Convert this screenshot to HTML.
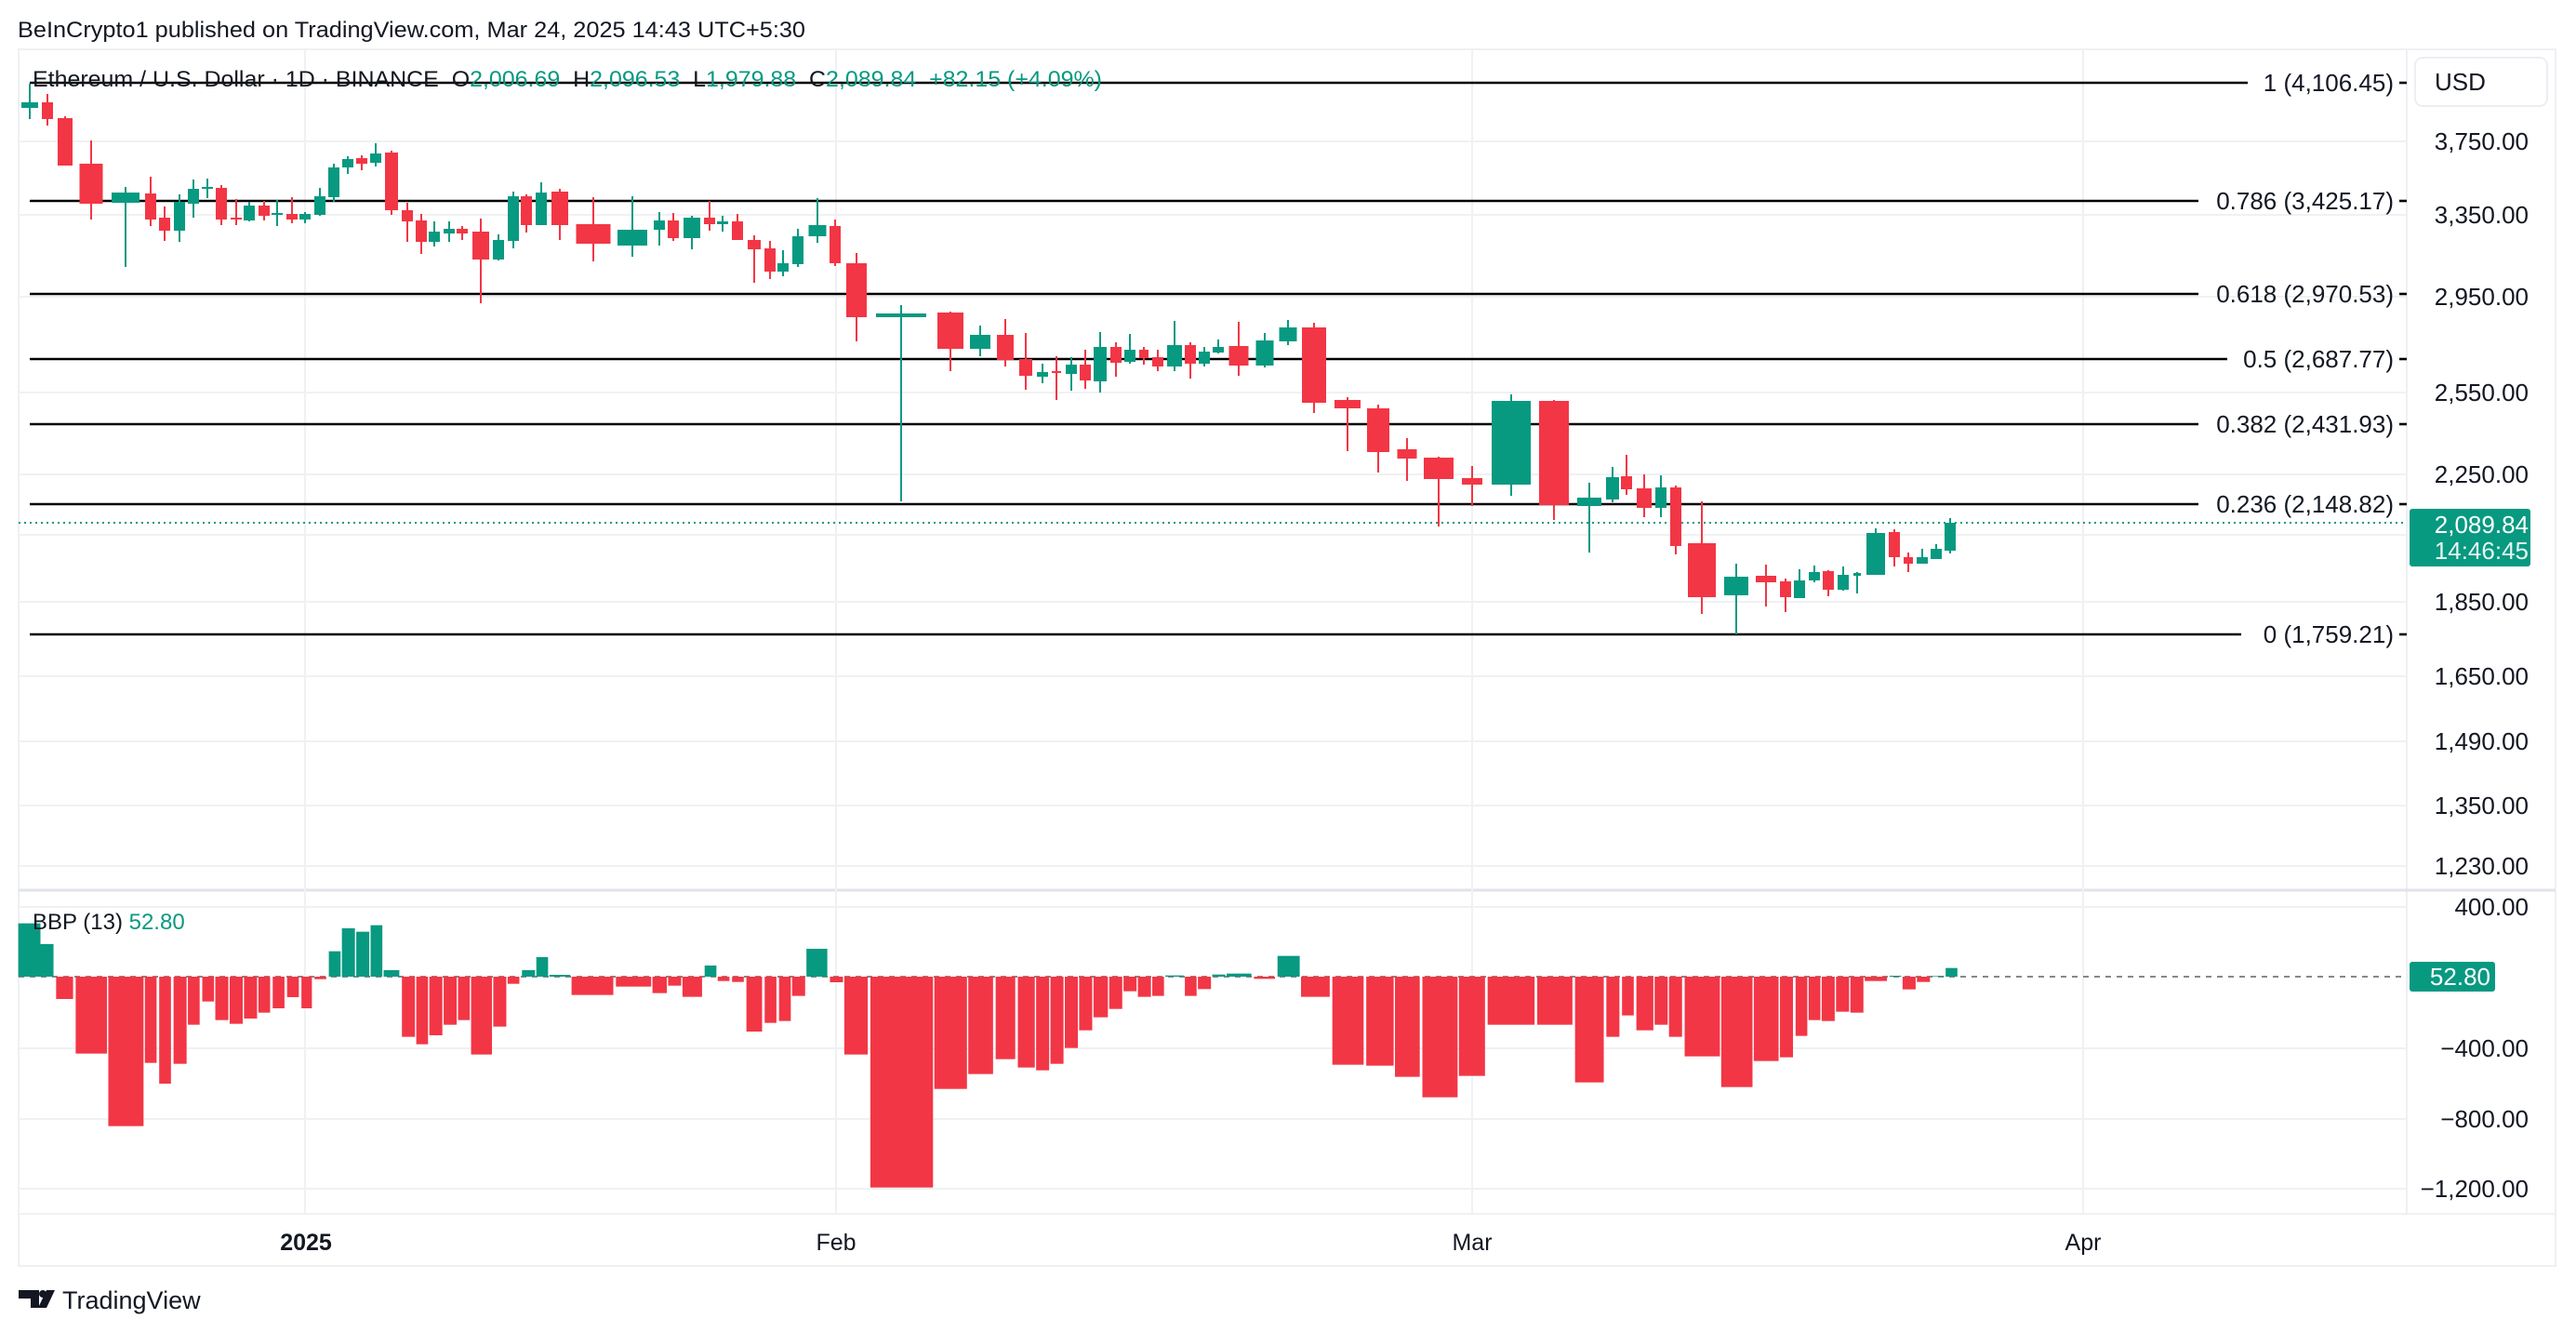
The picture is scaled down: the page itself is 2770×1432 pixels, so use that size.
<!DOCTYPE html>
<html><head><meta charset="utf-8"><style>
html,body{margin:0;padding:0;background:#fff}
svg{display:block}
text{font-family:"Liberation Sans",sans-serif}
.g{fill:#089981}.r{fill:#F23645}
.gw{stroke:#089981;stroke-width:2}.rw{stroke:#F23645;stroke-width:2}
.ax{font-size:26px;fill:#131722;text-anchor:end}
.fb{font-size:26px;fill:#131722;text-anchor:end}
.grid{stroke:#f0f1f3;stroke-width:2}
.fib{stroke:#000;stroke-width:2.6}
</style></head><body>
<svg width="2770" height="1432" viewBox="0 0 2770 1432" xmlns="http://www.w3.org/2000/svg">
<rect width="2770" height="1432" fill="#fff"/>
<text x="19" y="40" font-size="24" fill="#131722" textLength="847" lengthAdjust="spacingAndGlyphs">BeInCrypto1 published on TradingView.com, Mar 24, 2025 14:43 UTC+5:30</text>
<rect x="20" y="53" width="2728" height="1308" fill="none" stroke="#eef0f3" stroke-width="2"/>
<line x1="2588" y1="53" x2="2588" y2="1305" stroke="#eef0f3" stroke-width="2"/>
<line x1="20" y1="957" x2="2748" y2="957" stroke="#e0e3eb" stroke-width="3"/>
<line x1="20" y1="1305" x2="2748" y2="1305" stroke="#eef0f3" stroke-width="2"/>
<g class="grid">
<line x1="20" y1="152" x2="2588" y2="152"/><line x1="20" y1="231" x2="2588" y2="231"/>
<line x1="20" y1="319" x2="2588" y2="319"/><line x1="20" y1="422" x2="2588" y2="422"/>
<line x1="20" y1="510" x2="2588" y2="510"/><line x1="20" y1="575" x2="2588" y2="575"/>
<line x1="20" y1="647" x2="2588" y2="647"/><line x1="20" y1="727" x2="2588" y2="727"/>
<line x1="20" y1="797" x2="2588" y2="797"/><line x1="20" y1="866" x2="2588" y2="866"/>
<line x1="20" y1="931" x2="2588" y2="931"/>
<line x1="20" y1="975" x2="2588" y2="975"/><line x1="20" y1="1127" x2="2588" y2="1127"/>
<line x1="20" y1="1203" x2="2588" y2="1203"/><line x1="20" y1="1278" x2="2588" y2="1278"/>
<line x1="328" y1="53" x2="328" y2="1305"/><line x1="899" y1="53" x2="899" y2="1305"/>
<line x1="1583" y1="53" x2="1583" y2="1305"/><line x1="2240" y1="53" x2="2240" y2="1305"/>
</g>
<g class="fib">
<line x1="32" y1="89" x2="2417" y2="89"/>
<line x1="32" y1="216" x2="2364" y2="216"/>
<line x1="32" y1="316" x2="2364" y2="316"/>
<line x1="32" y1="386" x2="2395" y2="386"/>
<line x1="32" y1="456" x2="2364" y2="456"/>
<line x1="32" y1="542" x2="2364" y2="542"/>
<line x1="32" y1="682" x2="2410" y2="682"/>
<line x1="2580" y1="89" x2="2588" y2="89"/><line x1="2580" y1="216" x2="2588" y2="216"/>
<line x1="2580" y1="316" x2="2588" y2="316"/><line x1="2580" y1="386" x2="2588" y2="386"/>
<line x1="2580" y1="456" x2="2588" y2="456"/><line x1="2580" y1="542" x2="2588" y2="542"/>
<line x1="2580" y1="682" x2="2588" y2="682"/>
</g>
<g class="fb">
<text x="2574" y="98">1 (4,106.45)</text>
<text x="2574" y="225">0.786 (3,425.17)</text>
<text x="2574" y="325">0.618 (2,970.53)</text>
<text x="2574" y="395">0.5 (2,687.77)</text>
<text x="2574" y="465">0.382 (2,431.93)</text>
<text x="2574" y="551">0.236 (2,148.82)</text>
<text x="2574" y="691">0 (1,759.21)</text>
</g>
<line x1="20" y1="562" x2="2588" y2="562" stroke="#089981" stroke-width="2" stroke-dasharray="2,4"/>
<g id="c">
<line class="gw" x1="32" y1="90" x2="32" y2="128"/><rect class="g" x="23" y="110" width="18" height="6"/>
<line class="rw" x1="51" y1="101" x2="51" y2="135"/><rect class="r" x="45" y="110" width="12" height="18"/>
<line class="rw" x1="70" y1="125" x2="70" y2="178"/><rect class="r" x="62" y="127" width="16" height="51"/>
<line class="rw" x1="98" y1="151" x2="98" y2="236"/><rect class="r" x="85.5" y="176" width="25" height="43"/>
<line class="gw" x1="135" y1="201" x2="135" y2="287"/><rect class="g" x="120" y="207" width="30" height="11"/>
<line class="rw" x1="162" y1="190" x2="162" y2="243"/><rect class="r" x="156" y="208" width="12" height="28"/>
<line class="rw" x1="177" y1="222" x2="177" y2="259"/><rect class="r" x="171" y="234" width="12" height="14"/>
<line class="gw" x1="193" y1="209" x2="193" y2="260"/><rect class="g" x="187" y="217" width="12" height="31"/>
<line class="gw" x1="208" y1="193" x2="208" y2="234"/><rect class="g" x="202" y="203" width="12" height="16"/>
<line class="gw" x1="223" y1="192" x2="223" y2="213"/><rect class="g" x="217" y="201" width="12" height="2"/>
<line class="rw" x1="238" y1="199" x2="238" y2="242"/><rect class="r" x="232" y="202" width="12" height="34"/>
<line class="rw" x1="254" y1="214" x2="254" y2="242"/><rect class="r" x="248" y="234" width="12" height="2"/>
<line class="gw" x1="268" y1="217" x2="268" y2="238"/><rect class="g" x="262" y="221" width="12" height="16"/>
<line class="rw" x1="284" y1="216" x2="284" y2="237"/><rect class="r" x="278" y="221" width="12" height="11"/>
<line class="gw" x1="298" y1="215" x2="298" y2="243"/><rect class="g" x="292" y="229" width="12" height="2"/>
<line class="rw" x1="314" y1="212" x2="314" y2="240"/><rect class="r" x="308" y="230" width="12" height="6"/>
<line class="gw" x1="328" y1="228" x2="328" y2="240"/><rect class="g" x="322" y="230" width="12" height="6"/>
<line class="gw" x1="344" y1="202" x2="344" y2="232"/><rect class="g" x="338" y="211" width="12" height="20"/>
<line class="gw" x1="359" y1="176" x2="359" y2="217"/><rect class="g" x="353" y="180" width="12" height="32"/>
<line class="gw" x1="374" y1="168" x2="374" y2="187"/><rect class="g" x="368" y="171" width="12" height="9"/>
<line class="rw" x1="389" y1="167" x2="389" y2="183"/><rect class="r" x="383" y="170" width="12" height="6"/>
<line class="gw" x1="404" y1="154" x2="404" y2="179"/><rect class="g" x="398" y="165" width="12" height="10"/>
<line class="rw" x1="421" y1="162" x2="421" y2="231"/><rect class="r" x="414" y="164" width="14" height="62"/>
<line class="rw" x1="438" y1="218" x2="438" y2="260"/><rect class="r" x="432" y="226" width="12" height="12"/>
<line class="rw" x1="453" y1="230" x2="453" y2="273"/><rect class="r" x="447" y="237" width="12" height="23"/>
<line class="gw" x1="467" y1="238" x2="467" y2="265"/><rect class="g" x="461" y="249" width="12" height="11"/>
<line class="gw" x1="483" y1="238" x2="483" y2="260"/><rect class="g" x="477" y="246" width="12" height="5"/>
<line class="rw" x1="497" y1="243" x2="497" y2="258"/><rect class="r" x="491" y="246" width="12" height="5"/>
<line class="rw" x1="517" y1="235" x2="517" y2="326"/><rect class="r" x="508" y="249" width="18" height="30"/>
<line class="gw" x1="536" y1="252" x2="536" y2="280"/><rect class="g" x="530" y="258" width="12" height="21"/>
<line class="gw" x1="552" y1="206" x2="552" y2="267"/><rect class="g" x="546" y="211" width="12" height="48"/>
<line class="rw" x1="566" y1="209" x2="566" y2="250"/><rect class="r" x="560" y="211" width="12" height="31"/>
<line class="gw" x1="582" y1="196" x2="582" y2="242"/><rect class="g" x="576" y="207" width="12" height="35"/>
<line class="rw" x1="602" y1="203" x2="602" y2="258"/><rect class="r" x="593" y="206" width="18" height="36"/>
<line class="rw" x1="638" y1="212" x2="638" y2="281"/><rect class="r" x="619.5" y="241" width="37" height="21"/>
<line class="gw" x1="680" y1="211" x2="680" y2="276"/><rect class="g" x="664" y="247" width="32" height="17"/>
<line class="gw" x1="709" y1="228" x2="709" y2="264"/><rect class="g" x="703" y="237" width="12" height="10"/>
<line class="rw" x1="724" y1="229" x2="724" y2="259"/><rect class="r" x="718" y="237" width="12" height="19"/>
<line class="gw" x1="744" y1="232" x2="744" y2="268"/><rect class="g" x="735" y="234" width="18" height="22"/>
<line class="rw" x1="763" y1="216" x2="763" y2="248"/><rect class="r" x="757" y="234" width="12" height="7"/>
<line class="gw" x1="777" y1="232" x2="777" y2="249"/><rect class="g" x="771" y="238" width="12" height="3"/>
<line class="rw" x1="793" y1="230" x2="793" y2="258"/><rect class="r" x="787" y="238" width="12" height="20"/>
<line class="rw" x1="811" y1="253" x2="811" y2="304"/><rect class="r" x="804" y="258" width="14" height="10"/>
<line class="rw" x1="828" y1="259" x2="828" y2="300"/><rect class="r" x="822" y="267" width="12" height="25"/>
<line class="gw" x1="842" y1="269" x2="842" y2="297"/><rect class="g" x="836" y="283" width="12" height="9"/>
<line class="gw" x1="858" y1="246" x2="858" y2="287"/><rect class="g" x="852" y="254" width="12" height="30"/>
<line class="gw" x1="879" y1="213" x2="879" y2="261"/><rect class="g" x="869.5" y="242" width="19" height="12"/>
<line class="rw" x1="898" y1="236" x2="898" y2="286"/><rect class="r" x="892" y="243" width="12" height="40"/>
<line class="rw" x1="921" y1="272" x2="921" y2="367"/><rect class="r" x="910" y="283" width="22" height="58"/>
<line class="gw" x1="969" y1="328" x2="969" y2="539"/><rect class="g" x="942" y="337" width="54" height="4"/>
<line class="rw" x1="1022" y1="335" x2="1022" y2="399"/><rect class="r" x="1008" y="336" width="28" height="39"/>
<line class="gw" x1="1054" y1="350" x2="1054" y2="383"/><rect class="g" x="1043" y="360" width="22" height="15"/>
<line class="rw" x1="1081" y1="343" x2="1081" y2="394"/><rect class="r" x="1072" y="360" width="18" height="27"/>
<line class="rw" x1="1103" y1="358" x2="1103" y2="419"/><rect class="r" x="1096" y="386" width="14" height="18"/>
<line class="gw" x1="1121" y1="391" x2="1121" y2="412"/><rect class="g" x="1115" y="400" width="12" height="5"/>
<line class="rw" x1="1136" y1="383" x2="1136" y2="430"/><rect class="r" x="1131" y="399" width="10" height="2"/>
<line class="gw" x1="1152" y1="384" x2="1152" y2="420"/><rect class="g" x="1146" y="392" width="12" height="10"/>
<line class="rw" x1="1167" y1="376" x2="1167" y2="418"/><rect class="r" x="1161" y="392" width="12" height="17"/>
<line class="gw" x1="1183" y1="357" x2="1183" y2="422"/><rect class="g" x="1176" y="373" width="14" height="37"/>
<line class="rw" x1="1200" y1="368" x2="1200" y2="405"/><rect class="r" x="1194" y="373" width="12" height="17"/>
<line class="gw" x1="1215" y1="359" x2="1215" y2="391"/><rect class="g" x="1209" y="376" width="12" height="13"/>
<line class="rw" x1="1230" y1="373" x2="1230" y2="392"/><rect class="r" x="1225" y="376" width="10" height="9"/>
<line class="rw" x1="1245" y1="376" x2="1245" y2="399"/><rect class="r" x="1239" y="384" width="12" height="10"/>
<line class="gw" x1="1263" y1="345" x2="1263" y2="399"/><rect class="g" x="1255" y="371" width="16" height="23"/>
<line class="rw" x1="1280" y1="368" x2="1280" y2="407"/><rect class="r" x="1274" y="371" width="12" height="20"/>
<line class="gw" x1="1295" y1="373" x2="1295" y2="394"/><rect class="g" x="1289" y="378" width="12" height="13"/>
<line class="gw" x1="1310" y1="365" x2="1310" y2="380"/><rect class="g" x="1304" y="373" width="12" height="6"/>
<line class="rw" x1="1332" y1="346" x2="1332" y2="404"/><rect class="r" x="1321.5" y="372" width="21" height="21"/>
<line class="gw" x1="1360" y1="358" x2="1360" y2="395"/><rect class="g" x="1350.5" y="366" width="19" height="27"/>
<line class="gw" x1="1385" y1="344" x2="1385" y2="371"/><rect class="g" x="1375.5" y="352" width="19" height="15"/>
<line class="rw" x1="1413" y1="347" x2="1413" y2="444"/><rect class="r" x="1400" y="352" width="26" height="81"/>
<line class="rw" x1="1449" y1="427" x2="1449" y2="485"/><rect class="r" x="1435" y="430" width="28" height="9"/>
<line class="rw" x1="1482" y1="435" x2="1482" y2="508"/><rect class="r" x="1470" y="439" width="24" height="47"/>
<line class="rw" x1="1513" y1="471" x2="1513" y2="517"/><rect class="r" x="1502.5" y="483" width="21" height="10"/>
<line class="rw" x1="1547" y1="491" x2="1547" y2="566"/><rect class="r" x="1531" y="492" width="32" height="23"/>
<line class="rw" x1="1583" y1="501" x2="1583" y2="544"/><rect class="r" x="1572" y="514" width="22" height="7"/>
<line class="gw" x1="1625" y1="424" x2="1625" y2="533"/><rect class="g" x="1604" y="431" width="42" height="90"/>
<line class="rw" x1="1671" y1="430" x2="1671" y2="559"/><rect class="r" x="1655" y="431" width="32" height="112"/>
<line class="gw" x1="1709" y1="519" x2="1709" y2="594"/><rect class="g" x="1696" y="535" width="26" height="9"/>
<line class="gw" x1="1734" y1="502" x2="1734" y2="540"/><rect class="g" x="1727" y="513" width="14" height="24"/>
<line class="rw" x1="1749" y1="489" x2="1749" y2="532"/><rect class="r" x="1743" y="512" width="12" height="14"/>
<line class="rw" x1="1768" y1="510" x2="1768" y2="556"/><rect class="r" x="1760" y="525" width="16" height="21"/>
<line class="gw" x1="1786" y1="511" x2="1786" y2="556"/><rect class="g" x="1780" y="524" width="12" height="22"/>
<line class="rw" x1="1802" y1="522" x2="1802" y2="596"/><rect class="r" x="1796" y="524" width="12" height="63"/>
<line class="rw" x1="1830" y1="539" x2="1830" y2="660"/><rect class="r" x="1815" y="584" width="30" height="58"/>
<line class="gw" x1="1867" y1="606" x2="1867" y2="682"/><rect class="g" x="1854" y="620" width="26" height="20"/>
<line class="rw" x1="1899" y1="607" x2="1899" y2="652"/><rect class="r" x="1888" y="619" width="22" height="7"/>
<line class="rw" x1="1920" y1="622" x2="1920" y2="658"/><rect class="r" x="1914" y="625" width="12" height="17"/>
<line class="gw" x1="1935" y1="612" x2="1935" y2="643"/><rect class="g" x="1929" y="624" width="12" height="19"/>
<line class="gw" x1="1951" y1="608" x2="1951" y2="626"/><rect class="g" x="1945" y="615" width="12" height="9"/>
<line class="rw" x1="1966" y1="613" x2="1966" y2="641"/><rect class="r" x="1960" y="614" width="12" height="20"/>
<line class="gw" x1="1982" y1="609" x2="1982" y2="635"/><rect class="g" x="1976" y="618" width="12" height="16"/>
<line class="gw" x1="1997" y1="615" x2="1997" y2="638"/><rect class="g" x="1993" y="616" width="8" height="3"/>
<line class="gw" x1="2017" y1="568" x2="2017" y2="618"/><rect class="g" x="2007" y="573" width="20" height="45"/>
<line class="rw" x1="2037" y1="569" x2="2037" y2="609"/><rect class="r" x="2031" y="572" width="12" height="27"/>
<line class="rw" x1="2052" y1="594" x2="2052" y2="615"/><rect class="r" x="2047" y="599" width="10" height="7"/>
<line class="gw" x1="2067" y1="590" x2="2067" y2="606"/><rect class="g" x="2061" y="599" width="12" height="7"/>
<line class="gw" x1="2082" y1="585" x2="2082" y2="601"/><rect class="g" x="2076" y="590" width="12" height="11"/>
<line class="gw" x1="2097" y1="557" x2="2097" y2="595"/><rect class="g" x="2091" y="562" width="12" height="30"/>
</g>
<text x="35" y="93" font-size="24" fill="#131722" style="white-space:pre" textLength="1150" lengthAdjust="spacingAndGlyphs">Ethereum / U.S. Dollar · 1D · BINANCE  O<tspan fill="#089981">2,006.69</tspan>  H<tspan fill="#089981">2,096.53</tspan>  L<tspan fill="#089981">1,979.88</tspan>  C<tspan fill="#089981">2,089.84  +82.15 (+4.09%)</tspan></text>
<rect x="2597" y="62" width="142" height="52" rx="8" fill="#fff" stroke="#eceef2" stroke-width="2"/>
<text x="2618" y="97" font-size="26" fill="#131722">USD</text>
<g class="ax">
<text x="2719" y="161">3,750.00</text>
<text x="2719" y="240">3,350.00</text>
<text x="2719" y="328">2,950.00</text>
<text x="2719" y="431">2,550.00</text>
<text x="2719" y="519">2,250.00</text>
<text x="2719" y="656">1,850.00</text>
<text x="2719" y="736">1,650.00</text>
<text x="2719" y="806">1,490.00</text>
<text x="2719" y="875">1,350.00</text>
<text x="2719" y="940">1,230.00</text>
<text x="2719" y="984">400.00</text>
<text x="2719" y="1136">−400.00</text>
<text x="2719" y="1212">−800.00</text>
<text x="2719" y="1287">−1,200.00</text>
</g>
<rect x="2591" y="547" width="130" height="62" rx="3" fill="#089981"/>
<text x="2719" y="573" font-size="26" fill="#fff" text-anchor="end">2,089.84</text>
<text x="2719" y="601" font-size="26" fill="#e6f4f1" text-anchor="end">14:46:45</text>
<line x1="20" y1="1050" x2="2588" y2="1050" stroke="#888" stroke-width="2" stroke-dasharray="6,6"/>
<g transform="translate(0,950) scale(1.4032,0.33333)">
<rect class="g" x="14" y="128" width="17" height="172"/><rect class="g" x="31" y="195" width="10" height="105"/>
<rect class="r" x="43" y="300" width="13" height="72"/><rect class="r" x="58" y="300" width="24" height="248"/>
<rect class="r" x="83" y="300" width="27" height="482"/><rect class="r" x="111" y="300" width="9" height="278"/>
<rect class="r" x="122" y="300" width="9" height="345"/><rect class="r" x="133" y="300" width="10" height="281"/>
<rect class="r" x="144" y="300" width="9" height="155"/><rect class="r" x="155" y="300" width="9" height="80"/>
<rect class="r" x="165" y="300" width="10" height="140"/><rect class="r" x="176" y="300" width="10" height="152"/>
<rect class="r" x="187" y="300" width="10" height="135"/><rect class="r" x="198" y="300" width="9" height="116"/>
<rect class="r" x="209" y="300" width="9" height="102"/><rect class="r" x="220" y="300" width="9" height="66"/>
<rect class="r" x="231" y="300" width="8" height="102"/><rect class="r" x="241" y="300" width="9" height="8"/>
<rect class="g" x="252" y="218" width="9" height="82"/><rect class="g" x="262" y="144" width="10" height="156"/>
<rect class="g" x="273" y="155" width="10" height="145"/><rect class="g" x="284" y="134" width="9" height="166"/>
<rect class="g" x="294" y="279" width="12" height="21"/>
<rect class="r" x="308" y="300" width="10" height="194"/><rect class="r" x="319" y="300" width="9" height="218"/>
<rect class="r" x="329" y="300" width="10" height="189"/><rect class="r" x="340" y="300" width="10" height="155"/>
<rect class="r" x="351" y="300" width="9" height="140"/><rect class="r" x="361" y="300" width="16" height="251"/>
<rect class="r" x="378" y="300" width="10" height="161"/><rect class="r" x="389" y="300" width="9" height="23"/>
<rect class="g" x="400" y="279" width="10" height="21"/><rect class="g" x="411" y="237" width="9" height="63"/>
<rect class="g" x="421" y="294" width="16" height="6"/>
<rect class="r" x="438" y="300" width="32" height="59"/><rect class="r" x="472" y="300" width="27" height="32"/>
<rect class="r" x="500" y="300" width="11" height="53"/><rect class="r" x="512" y="300" width="10" height="29"/>
<rect class="r" x="523" y="300" width="15" height="65"/><rect class="g" x="540" y="264" width="9" height="36"/>
<rect class="r" x="550" y="300" width="9" height="14"/><rect class="r" x="561" y="300" width="9" height="17"/>
<rect class="r" x="572" y="300" width="12" height="177"/><rect class="r" x="586" y="300" width="9" height="149"/>
<rect class="r" x="597" y="300" width="9" height="143"/><rect class="r" x="607" y="300" width="10" height="62"/>
<rect class="g" x="618" y="210" width="16" height="90"/><rect class="r" x="636" y="300" width="10" height="18"/>
<rect class="r" x="647" y="300" width="18" height="251"/><rect class="r" x="667" y="300" width="48" height="680"/>
<rect class="r" x="716" y="300" width="25" height="362"/><rect class="r" x="742" y="300" width="19" height="314"/>
<rect class="r" x="763" y="300" width="15" height="266"/><rect class="r" x="780" y="300" width="13" height="293"/>
<rect class="r" x="794" y="300" width="10" height="302"/><rect class="r" x="805" y="300" width="10" height="281"/>
<rect class="r" x="816" y="300" width="10" height="230"/><rect class="r" x="827" y="300" width="10" height="173"/>
<rect class="r" x="838" y="300" width="11" height="131"/><rect class="r" x="850" y="300" width="10" height="104"/>
<rect class="r" x="861" y="300" width="10" height="47"/><rect class="r" x="872" y="300" width="10" height="65"/>
<rect class="r" x="883" y="300" width="9" height="62"/><rect class="g" x="893" y="296" width="14" height="4"/>
<rect class="r" x="908" y="300" width="9" height="62"/><rect class="r" x="918" y="300" width="10" height="40"/>
<rect class="g" x="929" y="293" width="10" height="7"/><rect class="g" x="940" y="290" width="19" height="10"/>
<rect class="r" x="961" y="300" width="16" height="7"/><rect class="g" x="979" y="233" width="17" height="67"/>
<rect class="r" x="997" y="300" width="22" height="65"/><rect class="r" x="1021" y="300" width="24" height="284"/>
<rect class="r" x="1047" y="300" width="21" height="287"/><rect class="r" x="1069" y="300" width="19" height="323"/>
<rect class="r" x="1090" y="300" width="27" height="389"/><rect class="r" x="1118" y="300" width="20" height="320"/>
<rect class="r" x="1140" y="300" width="36" height="155"/><rect class="r" x="1178" y="300" width="27" height="155"/>
<rect class="r" x="1207" y="300" width="22" height="341"/><rect class="r" x="1231" y="300" width="10" height="194"/>
<rect class="r" x="1243" y="300" width="9" height="125"/><rect class="r" x="1254" y="300" width="13" height="173"/>
<rect class="r" x="1268" y="300" width="10" height="155"/><rect class="r" x="1279" y="300" width="10" height="194"/>
<rect class="r" x="1291" y="300" width="27" height="257"/><rect class="r" x="1319" y="300" width="24" height="356"/>
<rect class="r" x="1344" y="300" width="19" height="272"/><rect class="r" x="1364" y="300" width="10" height="260"/>
<rect class="r" x="1376" y="300" width="9" height="191"/><rect class="r" x="1386" y="300" width="9" height="140"/>
<rect class="r" x="1396" y="300" width="10" height="143"/><rect class="r" x="1407" y="300" width="10" height="113"/>
<rect class="r" x="1418" y="300" width="10" height="116"/><rect class="r" x="1429" y="300" width="17" height="14"/>
<rect class="g" x="1448" y="297" width="9" height="3"/><rect class="r" x="1458" y="300" width="10" height="41"/>
<rect class="r" x="1469" y="300" width="10" height="17"/><rect class="g" x="1480" y="298" width="10" height="2"/>
<rect class="g" x="1491" y="272" width="9" height="28"/>
</g>
<text x="35" y="999" font-size="24" fill="#131722">BBP (13) <tspan fill="#089981">52.80</tspan></text>
<rect x="2591" y="1034" width="92" height="32" rx="3" fill="#089981"/>
<text x="2678" y="1059" font-size="26" fill="#fff" text-anchor="end">52.80</text>
<text x="329" y="1344" font-size="25" font-weight="bold" fill="#131722" text-anchor="middle">2025</text>
<text x="899" y="1344" font-size="25" fill="#131722" text-anchor="middle">Feb</text>
<text x="1583" y="1344" font-size="25" fill="#131722" text-anchor="middle">Mar</text>
<text x="2240" y="1344" font-size="25" fill="#131722" text-anchor="middle">Apr</text>
<path d="M20 1387h22v19h-9v-10h-13z" fill="#131722"/>
<circle cx="46" cy="1391" r="4" fill="#131722"/>
<path d="M50 1387h9l-9 19h-9z" fill="#131722"/>
<text x="67" y="1407" font-size="27" fill="#131722">TradingView</text>
</svg>
</body></html>
